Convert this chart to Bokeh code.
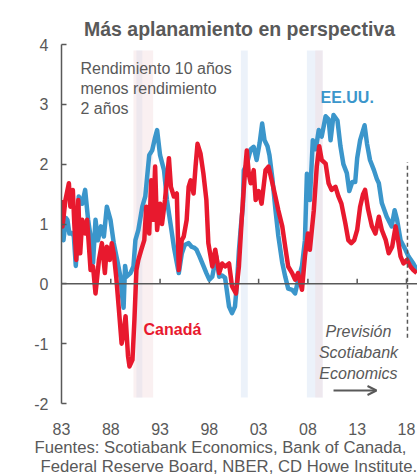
from bokeh.plotting import figure
from bokeh.models import (Range1d, LinearAxis, FixedTicker, Label, Span, BoxAnnotation,
                          Arrow, OpenHead, ColumnDataSource, Title)
from bokeh.embed import file_html
from bokeh.resources import INLINE

# ---------------- data ----------------
us_year = [1983.0, 1983.2, 1983.45, 1983.6, 1983.8, 1984.05, 1984.25, 1984.45, 1984.6, 1984.75,
           1985.1, 1985.4, 1985.7, 1985.95, 1986.2, 1986.45, 1986.7, 1987.0, 1987.3, 1987.6,
           1987.97, 1988.3, 1988.65, 1989.0, 1989.15, 1989.3, 1989.45, 1989.6, 1989.8, 1990.0,
           1990.3, 1990.5, 1990.8, 1991.2, 1991.5, 1991.9, 1992.2, 1992.5, 1992.7, 1993.0,
           1993.4, 1993.7, 1994.1, 1994.4, 1994.7, 1994.9, 1995.2, 1995.5, 1995.9, 1996.2,
           1996.5, 1996.7, 1997.0, 1997.4, 1997.7, 1998.0, 1998.3, 1998.7, 1999.0, 1999.3,
           1999.6, 2000.0, 2000.3, 2000.6, 2000.8, 2001.0, 2001.2, 2001.4, 2001.5, 2001.8,
           2002.2, 2002.5, 2002.8, 2003.1, 2003.36, 2003.6, 2003.9, 2004.1, 2004.4, 2004.7,
           2005.0, 2005.4, 2005.7, 2006.0, 2006.4, 2006.7, 2007.0, 2007.4, 2007.7, 2007.9,
           2008.2, 2008.5, 2008.8, 2009.1, 2009.4, 2009.8, 2010.1, 2010.3, 2010.6, 2011.0,
           2011.3, 2011.6, 2011.95, 2012.2, 2012.5, 2012.8, 2013.0, 2013.3, 2013.75, 2014.0,
           2014.3, 2014.7, 2015.0, 2015.2, 2015.5, 2016.0, 2016.5, 2016.8, 2017.05, 2017.4,
           2017.9, 2018.2, 2018.7, 2019.05]
us_spread = [0.95, 0.73, 1.1, 1.07, 0.84, 0.85, 0.8, 0.3, 0.7, 1.46,
             1.34, 1.57, 1.07, 0.79, 0.35, 1.07, 0.73, 0.96, 0.79, 1.29,
             1.07, 0.68, 0.4, 0.1, -0.2, -0.4, 0.3, 0.12, 0.15, 0.18,
             0.29, 0.73, 0.9, 1.29, 1.46, 2.15, 2.23, 2.45, 2.57, 2.15,
             1.9, 1.4, 0.96, 0.62, 0.35, 0.18, 0.5, 0.65, 0.68, 0.62,
             0.6, 0.57, 0.46, 0.3, 0.18, 0.07, 0.12, 0.46, 0.12, 0.14,
             0.1, -0.38, -0.49, -0.38, 0.0, 0.55, 0.96, 1.3, 1.9, 2.0,
             2.25, 2.29, 2.07, 2.35, 2.68, 2.4, 2.3, 2.15, 1.75, 1.25,
             0.8, 0.35, 0.12, -0.08, -0.1, -0.16, 0.05, 0.3, 0.73, 1.84,
             1.4, 2.4, 2.25, 2.57, 2.46, 2.8, 2.75, 2.4, 2.82, 2.73,
             2.3, 2.0, 1.85, 1.55, 1.7, 1.7, 2.1, 2.4, 2.65, 2.34,
             2.07, 1.9, 1.75, 1.68, 1.35, 1.12, 0.96, 1.23, 1.07, 0.73,
             0.57, 0.46, 0.34, 0.23]

ca_year = [1983.0, 1983.1, 1983.4, 1983.75, 1983.9, 1984.15, 1984.3, 1984.5, 1984.7, 1984.9,
           1985.1, 1985.4, 1985.6, 1985.95, 1986.2, 1986.45, 1986.8, 1987.1, 1987.4, 1987.6,
           1987.9, 1988.1, 1988.3, 1988.55, 1988.8, 1989.1, 1989.25, 1989.5, 1989.75, 1989.9,
           1990.2, 1990.4, 1990.6, 1990.8, 1991.1, 1991.4, 1991.6, 1991.9, 1992.1, 1992.3,
           1992.5, 1992.7, 1993.0, 1993.2, 1993.5, 1993.9, 1994.1, 1994.4, 1994.7, 1994.9,
           1995.2, 1995.4, 1995.7, 1995.9, 1996.1, 1996.4, 1996.6, 1996.8, 1997.1, 1997.4,
           1997.7, 1997.9, 1998.3, 1998.6, 1999.0, 1999.3, 1999.6, 2000.0, 2000.3, 2000.7,
           2001.0, 2001.3, 2001.6, 2001.8, 2002.0, 2002.2, 2002.5, 2002.7, 2003.0, 2003.3,
           2003.7, 2004.0, 2004.4, 2004.7, 2005.0, 2005.4, 2005.7, 2006.0, 2006.4, 2006.7,
           2007.0, 2007.4, 2007.7, 2008.0, 2008.2, 2008.6, 2008.9, 2009.15, 2009.4, 2009.8,
           2010.1, 2010.4, 2010.8, 2011.1, 2011.4, 2011.8, 2012.1, 2012.4, 2012.7, 2013.0,
           2013.3, 2013.6, 2013.8, 2014.1, 2014.5, 2014.85, 2015.2, 2015.5, 2015.9, 2016.2,
           2016.55, 2016.9, 2017.15, 2017.4, 2017.7, 2018.05, 2018.4, 2018.7, 2019.05]
ca_spread = [1.4, 0.96, 1.4, 1.68, 1.29, 1.57, 1.0, 0.4, 1.4, 0.51,
             1.07, 0.84, 1.07, 0.23, 0.29, -0.16, 0.4, 0.68, 0.18, 0.62,
             0.4, 0.68, 0.51, 0.12, -0.38, -1.0, -0.88, -0.54, -1.21, -1.38,
             -1.27, -0.6, 0.23, 0.4, 0.57, 0.73, 1.29, 0.84, 1.73, 1.07,
             1.96, 0.9, 1.34, 1.0, 1.4, 2.1, 1.62, 1.46, 1.51, 0.23,
             0.73, 0.79, 1.07, 1.62, 1.73, 1.51, 1.96, 2.34, 2.18, 1.84,
             1.4, 0.68, 0.29, 0.57, 0.18, 0.34, 0.29, 0.34, -0.04, -0.16,
             0.29, 1.12, 1.84, 2.23, 1.84, 1.68, 1.9, 1.4, 1.55, 1.34,
             1.9, 1.96, 1.68, 1.46, 1.23, 0.96, 0.62, 0.29, 0.18, 0.07,
             0.18, -0.1, 0.46, 0.84, 0.57, 1.23, 1.96, 2.3, 2.07, 2.01,
             1.68, 1.57, 1.62, 1.46, 1.34, 1.01, 0.73, 0.68, 0.73, 0.9,
             1.29, 1.5, 1.57, 1.25, 0.96, 0.84, 1.12, 0.9, 0.73, 0.51,
             0.62, 0.96, 0.73, 0.46, 0.34, 0.4, 0.29, 0.23, 0.18]

# recessions (start, end)
us_recessions = [(1990.6, 1991.2), (2001.2, 2001.9), (2007.9, 2009.5)]
ca_recessions = [(1990.3, 1992.3), (2008.75, 2009.5)]

forecast_start = 2018.1

x_ticks = [1983, 1988, 1993, 1998, 2003, 2008, 2013, 2018]
x_tick_labels = ["83", "88", "93", "98", "03", "08", "13", "18"]
y_ticks = [-2, -1, 0, 1, 2, 3, 4]
y_tick_labels = ["-2", "-1", "0", "1", "2", "3", "4"]

# ---------------- styles ----------------
GRAY = "#595959"
BLUE = "#3b96cb"
RED = "#e8192e"
FONT = "Liberation Sans"

p = figure(width=417, height=474, x_range=Range1d(1983, 2019.12), y_range=Range1d(-2, 4),
           output_backend="svg", toolbar_location=None,
           x_axis_location=None, y_axis_location=None,
           min_border_left=61, min_border_right=0, min_border_top=44, min_border_bottom=70)
p.outline_line_color = None
p.xgrid.visible = False
p.ygrid.visible = False
p.background_fill_color = "white"

p.title.text = "Más aplanamiento en perspectiva"
p.title.text_font = FONT
p.title.text_font_size = "19.5px"
p.title.text_font_style = "bold"
p.title.text_color = GRAY
p.title.align = "center"

# recession shading
for s, e in us_recessions:
    p.add_layout(BoxAnnotation(left=s, right=e, bottom=-1.9, top=3.9, level="underlay",
                               fill_color="#d5e2f3", fill_alpha=0.45, line_color=None))
for s, e in ca_recessions:
    p.add_layout(BoxAnnotation(left=s, right=e, bottom=-1.9, top=3.9, level="underlay",
                               fill_color="#f3d9dc", fill_alpha=0.4, line_color=None))

# axes
yaxis = LinearAxis(ticker=FixedTicker(ticks=y_ticks),
                   major_label_overrides={t: l for t, l in zip(y_ticks, y_tick_labels)},
                   axis_line_color=GRAY, axis_line_width=1.5,
                   major_tick_line_color=GRAY, major_tick_line_width=1.5,
                   major_tick_in=5, major_tick_out=0, minor_tick_line_color=None,
                   major_label_text_font=FONT, major_label_text_font_size="16px",
                   major_label_text_color=GRAY, major_label_standoff=13)
p.add_layout(yaxis, "left")

xlab = LinearAxis(ticker=FixedTicker(ticks=x_ticks),
                  major_label_overrides={t: l for t, l in zip(x_ticks, x_tick_labels)},
                  axis_line_color=None, major_tick_line_color=None, minor_tick_line_color=None,
                  major_label_text_font=FONT, major_label_text_font_size="16px",
                  major_label_text_color=GRAY, major_label_standoff=13)
p.add_layout(xlab, "below")

src_lines = ["Fuentes: Scotiabank Economics, Bank of Canada,",
             "Federal Reserve Board, NBER, CD Howe Institute."]
for txt, off, so in zip(src_lines, [-27, -21], [-3, -2]):
    p.add_layout(Title(text=txt, align="left", offset=off, standoff=so,
                       text_font=FONT, text_font_size="16.7px", text_font_style="normal",
                       text_color=GRAY), "below")

# zero line with upward ticks
p.add_layout(Span(location=0, dimension="width", line_color=GRAY, line_width=1.5))
p.segment(x0=x_ticks[1:], y0=[0] * 7, x1=x_ticks[1:], y1=[0.085] * 7,
          line_color=GRAY, line_width=1.5)

# series
us_src = ColumnDataSource(dict(x=us_year, y=us_spread))
ca_src = ColumnDataSource(dict(x=ca_year, y=ca_spread))
p.line("x", "y", source=us_src, line_color=BLUE, line_width=4.5, line_join="round")
p.line("x", "y", source=ca_src, line_color=RED, line_width=4.5, line_join="round")

# forecast marker
p.segment(x0=[forecast_start], y0=[-0.9], x1=[forecast_start], y1=[2.03],
          line_color=GRAY, line_width=1.5, line_dash="4 3")

# annotations
for i, t in enumerate(["Rendimiento 10 años", "menos rendimiento", "2 años"]):
    p.add_layout(Label(x=1984.93, y=3.6 - i * 0.335, text=t, text_font=FONT,
                       text_font_size="16px", text_color=GRAY, text_baseline="middle"))

p.add_layout(Label(x=2009.28, y=3.12, text="EE.UU.", text_font=FONT, text_font_size="16px",
                   text_font_style="bold", text_color=BLUE, text_baseline="middle"))
p.add_layout(Label(x=1991.32, y=-0.767, text="Canadá", text_font=FONT, text_font_size="16px",
                   text_font_style="bold", text_color=RED, text_baseline="middle"))

for i, t in enumerate(["Previsión", "Scotiabank", "Economics"]):
    p.add_layout(Label(x=2013.13, y=-0.8 - i * 0.35, text=t, text_font=FONT,
                       text_font_size="16px", text_font_style="italic", text_color=GRAY,
                       text_align="center", text_baseline="middle"))

p.add_layout(Arrow(x_start=2010.6, y_start=-1.783, x_end=2014.96, y_end=-1.783,
                   line_color=GRAY, line_width=2,
                   end=OpenHead(size=9, line_color=GRAY, line_width=2)))

open("out.html", "w").write(file_html(p, INLINE))
